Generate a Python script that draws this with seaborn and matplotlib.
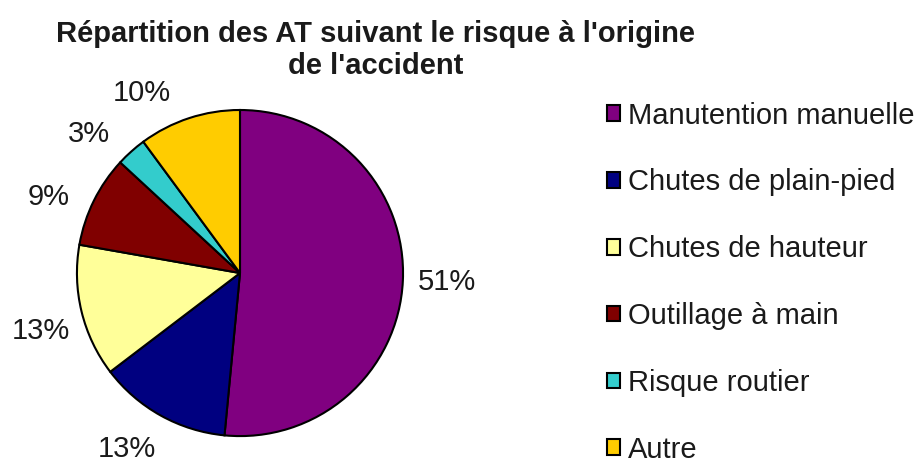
import matplotlib
matplotlib.use("Agg")
import matplotlib.pyplot as plt
import numpy as np
import seaborn as sns

# Data
categories = ["Manutention manuelle", "Chutes de plain-pied", "Chutes de hauteur",
              "Outillage à main", "Risque routier", "Autre"]
shares = [51, 13, 13, 9, 3, 10]
pct_labels = [f"{v}%" for v in shares]
slice_colors = ["#800080", "#000080", "#FFFF99", "#800000", "#33CCCC", "#FFCC00"]

# small angular nudges (degrees, counter-clockwise) so labels sit like the original
label_nudge = [1, -4, 2, 4, 5, 10]

sns.set_theme(style="white")
plt.rcParams["font.family"] = ["Liberation Sans", "DejaVu Sans"]

fig = plt.figure(figsize=(9.16, 4.62), dpi=100)
ax = fig.add_axes([0.084, 0.056, 0.356, 0.706])

palette = sns.color_palette(slice_colors)
wedges, texts = ax.pie(
    shares, labels=pct_labels, colors=palette, startangle=90, counterclock=False,
    labeldistance=1.27,
    wedgeprops=dict(edgecolor="black", linewidth=1.5),
    textprops=dict(fontsize=21, color="#1a1a1a"),
)
for w, t, nudge in zip(wedges, texts, label_nudge):
    ang = np.deg2rad((w.theta1 + w.theta2) / 2 + nudge)
    t.set_position((1.27 * np.cos(ang), 1.27 * np.sin(ang) - 0.015))
    t.set_horizontalalignment("center")
    t.set_verticalalignment("center")
ax.set_xlim(-1, 1)
ax.set_ylim(-1, 1)
ax.set_aspect("equal")

fig.text(0.41, 0.892, "Répartition des AT suivant le risque à l'origine\nde l'accident",
         ha="center", va="center", fontsize=21, fontweight="bold", color="#1a1a1a",
         linespacing=1.17)

leg = fig.legend(wedges, categories, loc="upper left", bbox_to_anchor=(0.663, 0.78),
                 frameon=False, fontsize=21, handlelength=0.45, handleheight=0.45,
                 handletextpad=0.25, labelspacing=1.33, borderpad=0, borderaxespad=0)
for t in leg.get_texts():
    t.set_color("#1a1a1a")

fig.savefig("out.png", dpi=100)
